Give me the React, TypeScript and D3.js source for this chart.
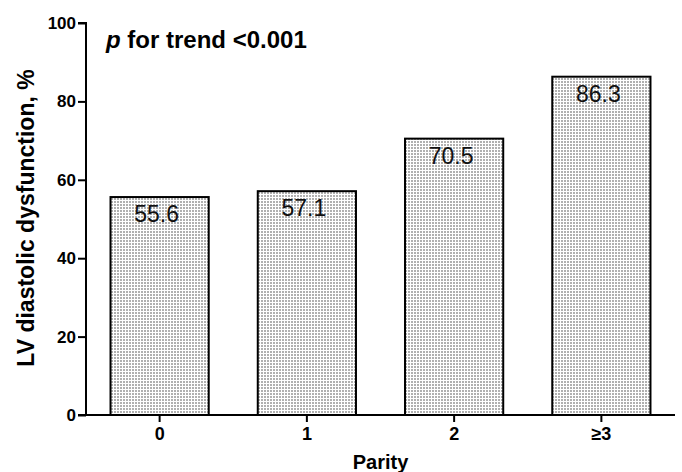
import React, { useEffect, useRef } from "react";
import * as d3 from "d3";

const categories = ["0", "1", "2", "≥3"];
const values = [55.6, 57.1, 70.5, 86.3];
const yTicks = [0, 20, 40, 60, 80, 100];
const title = "for trend <0.001";
const yLabel = "LV diastolic dysfunction, %";
const xLabel = "Parity";

const W = 682;
const H = 472;
const FONT = "'Liberation Sans', Arial, sans-serif";

export default function App() {
  const ref = useRef<SVGSVGElement | null>(null);

  useEffect(() => {
    const svg = d3.select(ref.current);
    svg.selectAll("*").remove();

    const left = 86, right = 675, top = 23, bottom = 415;
    const x = d3.scaleBand().domain(categories).range([left, right]).paddingInner(0.333).paddingOuter(0.1665);
    const y = d3.scaleLinear().domain([0, 100]).range([bottom, top]);

    const defs = svg.append("defs");
    const pat = defs.append("pattern").attr("id", "dots").attr("patternUnits", "userSpaceOnUse")
      .attr("width", 3).attr("height", 3);
    pat.append("rect").attr("width", 3).attr("height", 3).attr("fill", "#ffffff");
    pat.append("rect").attr("width", 2).attr("height", 2).attr("fill", "#b0b0b0");

    // bars
    svg.append("g").selectAll("rect").data(values).join("rect")
      .attr("x", (_, i) => x(categories[i])!)
      .attr("y", d => y(d))
      .attr("width", x.bandwidth())
      .attr("height", d => bottom - y(d))
      .attr("fill", "url(#dots)")
      .attr("stroke", "#000")
      .attr("stroke-width", 2);

    // value labels
    svg.append("g").selectAll("text").data(values).join("text")
      .attr("x", (_, i) => x(categories[i])! + x.bandwidth() / 2 - 3)
      .attr("y", d => y(d) + 25)
      .attr("text-anchor", "middle")
      .attr("font-family", FONT)
      .attr("font-size", 23)
      .attr("fill", "#111")
      .text(d => d.toFixed(1));

    // y axis
    const yAxis = svg.append("g").attr("transform", `translate(${left},0)`)
      .call(d3.axisLeft(y).tickValues(yTicks).tickSize(8).tickPadding(2).tickFormat(d3.format("d")));
    yAxis.select(".domain").attr("d", `M-8,${top}H0V${bottom}H-8`).attr("stroke", "#000").attr("stroke-width", 2);
    yAxis.selectAll(".tick line").attr("stroke", "#000").attr("stroke-width", 2);
    yAxis.selectAll(".tick text").attr("font-family", FONT).attr("font-size", 17).attr("font-weight", "bold").attr("fill", "#000");

    // x axis
    const xAxis = svg.append("g").attr("transform", `translate(0,${bottom})`)
      .call(d3.axisBottom(x).tickSize(7).tickPadding(5));
    xAxis.select(".domain").attr("d", `M${left},0H${right}`).attr("stroke", "#000").attr("stroke-width", 2);
    xAxis.selectAll(".tick line").attr("stroke", "#000").attr("stroke-width", 2);
    xAxis.selectAll(".tick text").attr("font-family", FONT).attr("font-size", 18).attr("font-weight", "bold").attr("fill", "#000");

    // axis titles
    svg.append("text")
      .attr("x", (left + right) / 2).attr("y", 469)
      .attr("text-anchor", "middle")
      .attr("font-family", FONT).attr("font-size", 20).attr("font-weight", "bold")
      .text(xLabel);

    svg.append("text")
      .attr("transform", `translate(34,218) rotate(-90)`)
      .attr("text-anchor", "middle")
      .attr("font-family", FONT).attr("font-size", 23).attr("font-weight", "bold")
      .text(yLabel);

    // annotation
    const t = svg.append("text")
      .attr("x", 106).attr("y", 48)
      .attr("font-family", FONT).attr("font-size", 24).attr("font-weight", "bold");
    t.append("tspan").attr("font-style", "italic").text("p");
    t.append("tspan").text(" " + title);
  }, []);

  return (
    <svg ref={ref} width={W} height={H} viewBox={`0 0 ${W} ${H}`}
      style={{ position: "absolute", left: 0, top: 0, background: "#fff" }} />
  );
}
